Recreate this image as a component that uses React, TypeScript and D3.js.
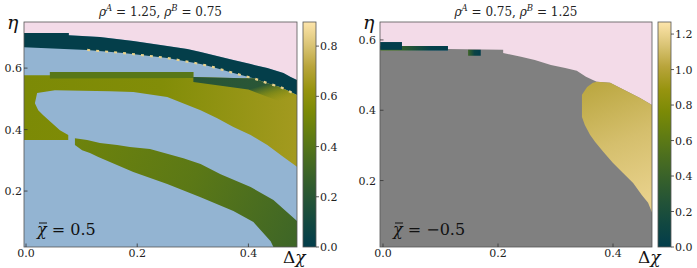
import React from "react";
import * as d3 from "d3";

type Pt = [number, number];

// colormap anchors (bamako-like)
const cmapStops = ["#023d4b", "#114741", "#235337", "#36602b", "#4b6e1f", "#627d12", "#7b8a06", "#97940f", "#b8a43a", "#dbc577", "#fde5ab"];

const xTicks = [0, 0.2, 0.4];
const yTicks = [0.2, 0.4, 0.6];
const cbTicksL = [0, 0.2, 0.4, 0.6, 0.8];
const cbTicksR = [0, 0.2, 0.4, 0.6, 0.8, 1.0, 1.2];

// ---- left panel: rho_A = 1.25, rho_B = 0.75, points are [dchi, eta]
const pinkEdgeL: Pt[] = [[-0.004, 0.714], [0.077, 0.714], [0.077, 0.707], [0.133, 0.701], [0.193, 0.688], [0.254, 0.672], [0.29, 0.662], [0.314, 0.652], [0.373, 0.626], [0.404, 0.613], [0.434, 0.6], [0.463, 0.584], [0.476, 0.571], [0.488, 0.561]];
const tealEdgeL: Pt[] = [[-0.004, 0.668], [0.11, 0.659], [0.175, 0.649], [0.254, 0.633], [0.314, 0.613], [0.337, 0.603], [0.373, 0.584], [0.409, 0.567], [0.434, 0.551], [0.458, 0.538], [0.476, 0.522], [0.488, 0.512]];
const midL: Pt[] = [[-0.004, 0.577], [0.043, 0.577], [0.043, 0.587], [0.301, 0.587], [0.301, 0.571], [0.391, 0.567], [0.409, 0.567], [0.434, 0.551], [0.458, 0.538], [0.476, 0.522], [0.488, 0.512], [0.488, 0.278], [0.463, 0.311], [0.434, 0.35], [0.404, 0.382], [0.373, 0.408], [0.344, 0.437], [0.314, 0.463], [0.254, 0.506], [0.193, 0.522], [0.151, 0.525], [0.052, 0.528], [0.02, 0.519], [0.016, 0.486], [0.022, 0.463], [0.031, 0.447], [0.047, 0.421], [0.061, 0.398], [0.076, 0.382], [0.076, 0.366], [-0.004, 0.366]];
const stripL: Pt[] = [[0.043, 0.587], [0.301, 0.587], [0.301, 0.568], [0.043, 0.566]];
const shadeL: Pt[] = [[0.301, 0.571], [0.391, 0.567], [0.409, 0.567], [0.434, 0.551], [0.458, 0.538], [0.476, 0.522], [0.488, 0.512], [0.488, 0.47], [0.4, 0.53], [0.301, 0.555]];
const bandL: Pt[] = [[0.088, 0.372], [0.11, 0.366], [0.133, 0.356], [0.164, 0.35], [0.187, 0.343], [0.223, 0.337], [0.283, 0.307], [0.314, 0.288], [0.35, 0.255], [0.404, 0.213], [0.445, 0.171], [0.488, 0.102], [0.488, 0.018], [0.445, 0.018], [0.44, 0.037], [0.409, 0.099], [0.373, 0.135], [0.314, 0.18], [0.254, 0.223], [0.193, 0.262], [0.13, 0.311], [0.115, 0.324], [0.101, 0.333], [0.088, 0.35]];
const tealValL = 0.01;
const stripValL = 0.41;
const streakValL = 0.84;
const midValsL = [0.54, 0.56, 0.66];
const bandValsL = [0.49, 0.42, 0.3];
const shadeValsL = [0.15, 0.4, 0.55];

// ---- right panel: rho_A = 0.75, rho_B = 1.25
const pinkEdgeR: Pt[] = [[-0.005, 0.569], [0.113, 0.569], [0.113, 0.574], [0.209, 0.572], [0.209, 0.563], [0.24, 0.552], [0.264, 0.543], [0.292, 0.529], [0.317, 0.52], [0.337, 0.512], [0.353, 0.495], [0.365, 0.486], [0.372, 0.481], [0.395, 0.478], [0.412, 0.464], [0.43, 0.449], [0.447, 0.435], [0.468, 0.415]];
const yellowR: Pt[] = [[0.372, 0.481], [0.395, 0.478], [0.412, 0.464], [0.43, 0.449], [0.447, 0.435], [0.468, 0.415], [0.468, 0.108], [0.461, 0.137], [0.45, 0.159], [0.435, 0.193], [0.417, 0.222], [0.4, 0.25], [0.383, 0.282], [0.369, 0.31], [0.36, 0.33], [0.351, 0.358], [0.346, 0.381], [0.346, 0.444], [0.355, 0.466], [0.365, 0.478]];
const yellowValsR = [1.03, 1.12, 1.19];
const patchA_R: Pt[] = [[-0.005, 0.594], [0.033, 0.594], [0.033, 0.572], [-0.005, 0.572]];
const patchB_R: Pt[] = [[-0.005, 0.583], [0.113, 0.583], [0.113, 0.569], [-0.005, 0.569]];
const patchC_R: Pt[] = [[0.148, 0.572], [0.17, 0.572], [0.17, 0.555], [0.148, 0.555]];
const patchValsB_R = [0.42, 0.4, 0.22, 0.02, 0.0];
const patchValsC_R = [0.42, 0.08, 0.0];

const PINK = "#f3dbe8";
const BLUE = "#93b4d2";
const GRAY = "#808080";
const FONT = "'DejaVu Serif', serif";

const ramp = d3.piecewise(d3.interpolateRgb, cmapStops);

interface Grad { from: Pt; to: Pt; vals: number[]; ops?: number[] }
interface Shape { pts: Pt[]; fill?: string; val?: number; grad?: Grad }

interface PanelCfg {
  id: string;
  left: number;
  right: number;
  xDomain: [number, number];
  yDomain: [number, number];
  vmax: number;
  bg: string;
  shapes: Shape[];
  streak?: Pt[];
  streakVal?: number;
  rhoA: string;
  rhoB: string;
  chi: string;
  cbTicks: number[];
  yLabelGap: number;
}

const TOP = 22;
const BOT = 247;
const txt = { fontFamily: FONT };

function Panel({ cfg }: { cfg: PanelCfg }) {
  const xs = d3.scaleLinear().domain(cfg.xDomain).range([cfg.left, cfg.right]);
  const ys = d3.scaleLinear().domain(cfg.yDomain).range([BOT, TOP]);
  const cb = d3.scaleLinear().domain([0, cfg.vmax]).range([BOT, TOP]);
  const color = (v: number) => ramp(Math.max(0, Math.min(1, v / cfg.vmax)));
  const line = d3.line<Pt>().x((d) => xs(d[0])).y((d) => ys(d[1]));
  const cbX = cfg.right + 6;
  const cbW = 13;
  const cx = (cfg.left + cfg.right) / 2;
  const clip = `clip${cfg.id}`;
  const chiX = cfg.left + 13;

  return (
    <g>
      <defs>
        <clipPath id={clip}>
          <rect x={cfg.left} y={TOP} width={cfg.right - cfg.left} height={BOT - TOP} />
        </clipPath>
        {cfg.shapes.map((s, i) =>
          s.grad ? (
            <linearGradient key={i} id={`g${cfg.id}${i}`} gradientUnits="userSpaceOnUse"
              x1={xs(s.grad.from[0])} y1={ys(s.grad.from[1])} x2={xs(s.grad.to[0])} y2={ys(s.grad.to[1])}>
              {s.grad.vals.map((v, j) => (
                <stop key={j} offset={j / (s.grad!.vals.length - 1)} stopColor={color(v)}
                  stopOpacity={s.grad!.ops ? s.grad!.ops[j] : 1} />
              ))}
            </linearGradient>
          ) : null
        )}
        <linearGradient id={`cb${cfg.id}`} x1="0" y1="1" x2="0" y2="0">
          {cmapStops.map((c, j) => (
            <stop key={j} offset={j / (cmapStops.length - 1)} stopColor={c} />
          ))}
        </linearGradient>
      </defs>

      <g clipPath={`url(#${clip})`}>
        <rect x={cfg.left} y={TOP} width={cfg.right - cfg.left} height={BOT - TOP} fill={cfg.bg} />
        {cfg.shapes.map((s, i) => (
          <path key={i} d={line(s.pts) + "Z"}
            fill={s.grad ? `url(#g${cfg.id}${i})` : s.fill ?? color(s.val ?? 0)} />
        ))}
        {cfg.streak && (
          <path d={line(cfg.streak) ?? ""} fill="none" stroke={color(cfg.streakVal ?? 0.8)}
            strokeWidth={2.2} strokeDasharray="3 6" />
        )}
      </g>
      <rect x={cfg.left} y={TOP} width={cfg.right - cfg.left} height={BOT - TOP} fill="none" stroke="#555" strokeWidth={0.8} />

      {/* axes ticks */}
      {xTicks.map((t) => (
        <g key={"x" + t}>
          <line x1={xs(t)} x2={xs(t)} y1={BOT} y2={BOT - 3.5} stroke="#333" strokeWidth={0.8} />
          <text x={xs(t)} y={BOT + 10} textAnchor="middle" fontSize={11} style={txt} fill="#222">{t.toFixed(1)}</text>
        </g>
      ))}
      {yTicks.map((t) => (
        <g key={"y" + t}>
          <line x1={cfg.left} x2={cfg.left + 3.5} y1={ys(t)} y2={ys(t)} stroke="#333" strokeWidth={0.8} />
          <text x={cfg.left - cfg.yLabelGap} y={ys(t) + 4} textAnchor="end" fontSize={11} style={txt} fill="#222">{t.toFixed(1)}</text>
        </g>
      ))}

      {/* title */}
      <text x={cx} y={16} textAnchor="middle" fontSize={12} style={txt} fill="#222">
        <tspan fontStyle="italic">ρ</tspan>
        <tspan fontStyle="italic" fontSize={8.5} dy={-5}>A</tspan>
        <tspan dy={5}>{` = ${cfg.rhoA}, `}</tspan>
        <tspan fontStyle="italic">ρ</tspan>
        <tspan fontStyle="italic" fontSize={8.5} dy={-5}>B</tspan>
        <tspan dy={5}>{` = ${cfg.rhoB}`}</tspan>
      </text>

      {/* axis labels */}
      <text x={cfg.left - 17} y={29} fontSize={19} fontStyle="italic" style={txt} fill="#111">η</text>
      <text x={cfg.right - 14} y={263} fontSize={17} style={txt} fill="#111">
        Δ<tspan fontStyle="italic">χ</tspan>
      </text>
      <text x={chiX} y={235} fontSize={16} style={txt} fill="#111">
        <tspan fontStyle="italic">χ</tspan>{` = ${cfg.chi}`}
      </text>
      <line x1={chiX + 2} x2={chiX + 10} y1={223} y2={223} stroke="#111" strokeWidth={1} />

      {/* colorbar */}
      <rect x={cbX} y={TOP} width={cbW} height={BOT - TOP} fill={`url(#cb${cfg.id})`} stroke="#555" strokeWidth={0.8} />
      {cfg.cbTicks.map((t) => (
        <g key={"c" + t}>
          <line x1={cbX + cbW} x2={cbX + cbW + 3} y1={cb(t)} y2={cb(t)} stroke="#333" strokeWidth={0.8} />
          <text x={cbX + cbW + 4} y={cb(t) + 4} fontSize={11} style={txt} fill="#222">{t.toFixed(1)}</text>
        </g>
      ))}
    </g>
  );
}

const withCorners = (edge: Pt[], x0: number, x1: number, yTop: number): Pt[] => [...edge, [x1, yTop], [x0, yTop]];

export default function App() {
  const left: PanelCfg = {
    id: "L",
    left: 24,
    right: 297,
    xDomain: [-0.0036, 0.4874],
    yDomain: [0.018, 0.75],
    vmax: 0.896,
    bg: BLUE,
    shapes: [
      { pts: withCorners(pinkEdgeL, -0.01, 0.5, 0.76), fill: PINK },
      { pts: [...pinkEdgeL, ...tealEdgeL.slice().reverse()], val: tealValL },
      { pts: midL, grad: { from: [0.0, 0.5], to: [0.488, 0.45], vals: midValsL } },
      { pts: stripL, val: stripValL },
      { pts: shadeL, grad: { from: [0.44, 0.552], to: [0.45, 0.49], vals: shadeValsL, ops: [0.9, 0.45, 0] } },
      { pts: bandL, grad: { from: [0.09, 0.37], to: [0.488, 0.02], vals: bandValsL } },
    ],
    streak: tealEdgeL.slice(1),
    streakVal: streakValL,
    rhoA: "1.25",
    rhoB: "0.75",
    chi: "0.5",
    cbTicks: cbTicksL,
    yLabelGap: 2,
  };
  const right: PanelCfg = {
    id: "R",
    left: 380,
    right: 652,
    xDomain: [-0.0052, 0.4678],
    yDomain: [0.011, 0.651],
    vmax: 1.268,
    bg: GRAY,
    shapes: [
      { pts: withCorners(pinkEdgeR, -0.01, 0.48, 0.66), fill: PINK },
      { pts: yellowR, grad: { from: [0.38, 0.48], to: [0.46, 0.15], vals: yellowValsR } },
      { pts: patchB_R, grad: { from: [-0.005, 0.57], to: [0.113, 0.57], vals: patchValsB_R } },
      { pts: patchA_R, val: 0.0 },
      { pts: patchC_R, grad: { from: [0.148, 0.56], to: [0.17, 0.56], vals: patchValsC_R } },
    ],
    rhoA: "0.75",
    rhoB: "1.25",
    chi: "−0.5",
    cbTicks: cbTicksR,
    yLabelGap: 4,
  };
  return (
    <svg width={697} height={268} style={{ position: "absolute", left: 0, top: 0, background: "#fff" }}>
      <Panel cfg={left} />
      <Panel cfg={right} />
    </svg>
  );
}
